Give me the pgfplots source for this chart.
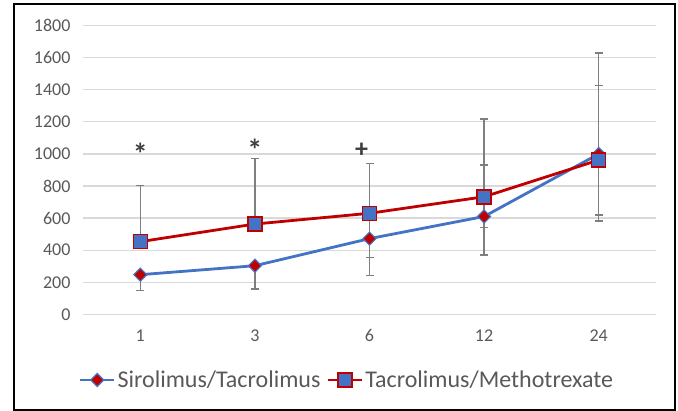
\documentclass[border=0pt]{standalone}
\usepackage{pgfplots}
\pgfplotsset{compat=1.18}
\usepackage{pgfplotstable}
\usepackage{fontspec}
\setmainfont{Carlito}
\definecolor{txtgray}{HTML}{595959}
\definecolor{gridgray}{HTML}{D9D9D9}
\definecolor{errgray}{HTML}{7F7F7F}
\definecolor{xlblue}{HTML}{4472C4}
\definecolor{xlred}{HTML}{C00000}

% x: category index; y: mean; ep: plus error; em: minus error
\pgfplotstableread{
x y ep em
0 247 0 100
1 303 0 145
2 472 0 231
3 610 321 240
4 1000 428 418
}\sirtac
\pgfplotstableread{
x y ep em
0 453 349 0
1 563 407 0
2 630 312 275
3 733 485 193
4 962 668 343
}\tacmtx

\begin{document}
\begin{tikzpicture}[x=1pt,y=1pt]
\path (0,0) rectangle (678,-411);
\draw[black, line width=1.8pt] (14,-4) rectangle (675,-410);
\begin{axis}[
  at={(83pt,-314.3pt)}, anchor=south west,
  scale only axis, width=573pt, height=288.6pt,
  xmin=-0.5, xmax=4.5, ymin=0, ymax=1800,
  xtick={0,1,2,3,4}, xticklabels={1,3,6,12,24},
  ytick={0,200,...,1800},
  ymajorgrids, grid style={gridgray, line width=1.2pt},
  axis line style={draw=none}, tick style={draw=none},
  clip=false,
  ticklabel style={font=\fontsize{18}{21}\selectfont, text=txtgray},
  /pgf/number format/assume math mode=true,
  yticklabel style={xshift=-9pt},
  xticklabel style={yshift=-12pt},
  legend style={at={(0.4607,-0.2277)}, anchor=center, draw=none, fill=none,
    legend columns=2, font=\fontsize{24}{28}\selectfont, text=txtgray,
    /tikz/every even column/.append style={column sep=4pt},
    legend cell align=left},
  legend image code/.code={
    \draw[#1, mark=none, line width=2.8pt] (0pt,0pt) -- (34pt,0pt);
    \draw[#1, draw=none] plot coordinates {(17pt,0pt)};
  },
  /pgfplots/y tick label style={/pgf/number format/1000 sep={}},
]
% error bars (drawn behind lines and markers)
\addplot[draw=none, forget plot, mark=none,
  error bars/.cd, y dir=both, y explicit,
  error bar style={draw=errgray, line width=1.3pt},
  error mark options={draw=errgray, rotate=90, mark size=4pt, line width=1.3pt}]
  table[x=x, y=y, y error plus=ep, y error minus=em] {\sirtac};
\addplot[draw=none, forget plot, mark=none,
  error bars/.cd, y dir=both, y explicit,
  error bar style={draw=errgray, line width=1.3pt},
  error mark options={draw=errgray, rotate=90, mark size=4pt, line width=1.3pt}]
  table[x=x, y=y, y error plus=ep, y error minus=em] {\tacmtx};
% Sirolimus/Tacrolimus
\addplot[xlblue, line width=2.8pt, mark=square*,
  mark options={rotate=45, fill=xlred, draw=xlblue, line width=1.2pt, mark size=4.6pt}]
  table[x=x, y=y] {\sirtac};
\addlegendentry{Sirolimus/Tacrolimus}
% Tacrolimus/Methotrexate
\addplot[xlred, line width=2.8pt, mark=square*,
  mark options={fill=xlblue, draw=xlred, line width=1.5pt, mark size=7pt}]
  table[x=x, y=y] {\tacmtx};
\addlegendentry{Tacrolimus/Methotrexate}
% significance markers
\node[text=txtgray!70!black, font=\fontsize{30}{32}\selectfont\bfseries] at (axis cs:0,1000) {*};
\node[text=txtgray!70!black, font=\fontsize{30}{32}\selectfont\bfseries] at (axis cs:1,1025) {*};
\node[text=txtgray!70!black, font=\fontsize{26}{28}\selectfont\bfseries] at (axis cs:1.93,1020) {+};
\end{axis}
\end{tikzpicture}
\end{document}
